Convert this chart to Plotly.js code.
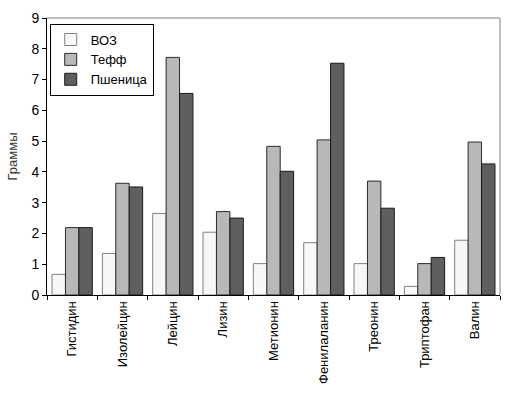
<!DOCTYPE html>
<html>
<head>
<meta charset="utf-8">
<script src="https://cdn.plot.ly/plotly-3.0.1.min.js"></script>
<style>html,body{margin:0;padding:0;background:#fff;}#chart{width:511px;height:396px;}</style>
</head>
<body>
<div id="chart"></div>
<script>
var categories = ["Гистидин","Изолейцин","Лейцин","Лизин","Метионин","Фенилаланин","Треонин","Триптофан","Валин"];
var seriesNames = ["ВОЗ","Тефф","Пшеница"];
var voz = [0.67, 1.35, 2.65, 2.04, 1.02, 1.70, 1.02, 0.28, 1.78];
var teff = [2.19, 3.63, 7.72, 2.71, 4.83, 5.04, 3.70, 1.02, 4.97];
var wheat = [2.19, 3.51, 6.55, 2.50, 4.02, 7.53, 2.82, 1.22, 4.26];
var yTicks = [0,1,2,3,4,5,6,7,8,9];

var font = "'Liberation Sans Narrow', 'Liberation Sans', Arial, sans-serif";
var fills = ["#f7f7f7", "#b8b8b8", "#5f5f5f"];
var lines = ["#808080", "#2a2a2a", "#1a1a1a"];
var data = [voz, teff, wheat].map(function(v, i){
  return {type:"bar", name:seriesNames[i], x:categories, y:v,
    marker:{color:fills[i], line:{color:lines[i], width:1}}};
});
var layout = {
  width:511, height:396,
  margin:{l:47, r:11, t:18, b:101},
  paper_bgcolor:"#fff", plot_bgcolor:"#fff",
  font:{family:font, size:13, color:"#000"},
  barmode:"group", bargap:0.2, bargroupgap:0,
  showlegend:true,
  legend:{x:0.006, y:0.98, xanchor:"left", yanchor:"top", bordercolor:"#000", borderwidth:1,
    bgcolor:"#fff", font:{family:font, size:13}, tracegroupgap:0, itemwidth:30},
  xaxis:{tickangle:-90, ticks:"outside", tickson:"boundaries", ticklen:4, tickcolor:"#000",
    showline:true, linecolor:"#000", linewidth:1, mirror:false, showgrid:false,
    tickfont:{family:font, size:13}},
  yaxis:{range:[0,9], tickvals:yTicks, ticks:"outside", ticklen:4, tickcolor:"#000",
    showline:true, linecolor:"#000", linewidth:1, showgrid:false, zeroline:false,
    tickfont:{family:font, size:14},
    title:{text:"Граммы", font:{family:font, size:13, color:"#333"}, standoff:10}},
  shapes:[
    {type:"line", xref:"paper", yref:"paper", x0:0, x1:1, y0:1, y1:1, line:{color:"#808080", width:1}},
    {type:"line", xref:"paper", yref:"paper", x0:1, x1:1, y0:0, y1:1, line:{color:"#808080", width:1}}
  ]
};
Plotly.newPlot("chart", data, layout, {displayModeBar:false, staticPlot:true});
</script>
</body>
</html>
